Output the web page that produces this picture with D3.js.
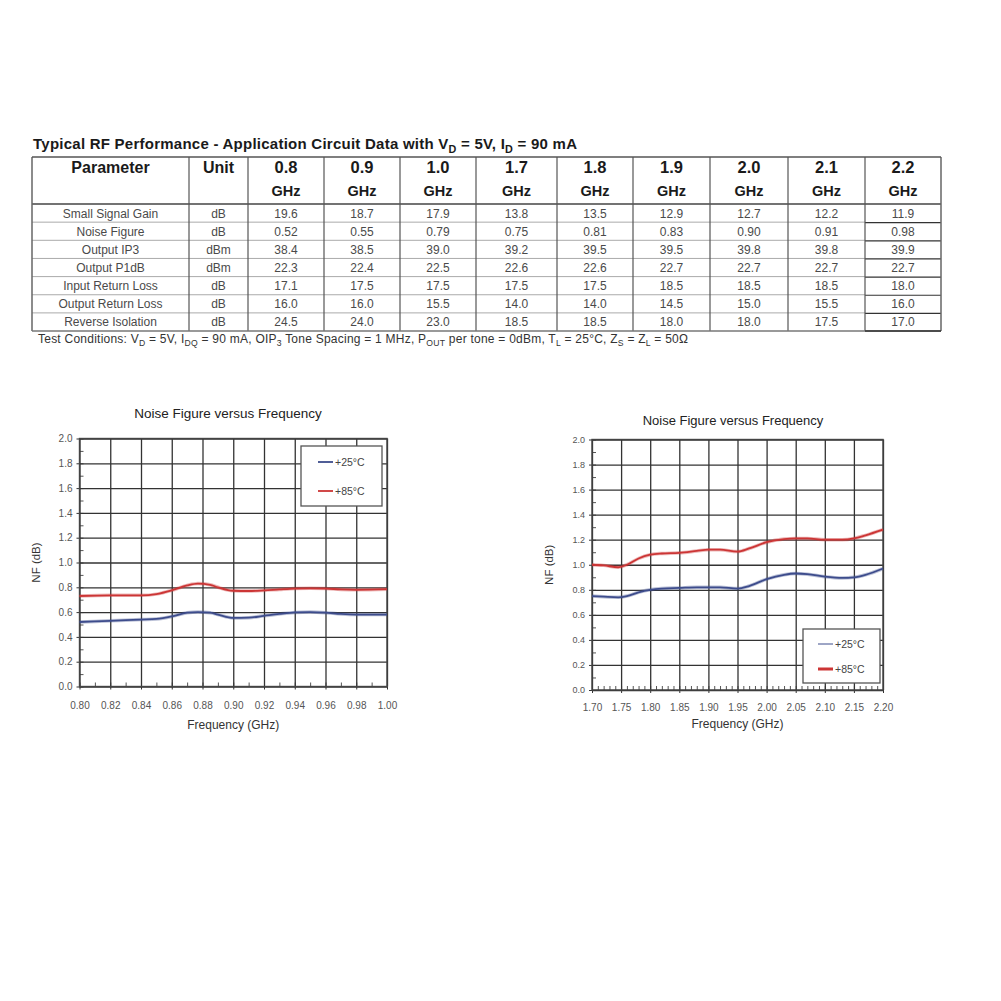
<!DOCTYPE html>
<html><head><meta charset="utf-8">
<script src="https://cdn.jsdelivr.net/npm/d3@7"></script>
<style>
html,body{margin:0;padding:0;background:#fff;}
svg{display:block;}
</style></head>
<body>
<svg id="c" width="1001" height="1001"></svg>
<script>
// ---------- Table data ----------
const freqCols = ["0.8","0.9","1.0","1.7","1.8","1.9","2.0","2.1","2.2"];
const params = ["Small Signal Gain","Noise Figure","Output IP3","Output P1dB","Input Return Loss","Output Return Loss","Reverse Isolation"];
const units = ["dB","dB","dBm","dBm","dB","dB","dB"];
const gainVals   = ["19.6","18.7","17.9","13.8","13.5","12.9","12.7","12.2","11.9"];
const nfVals     = ["0.52","0.55","0.79","0.75","0.81","0.83","0.90","0.91","0.98"];
const oip3Vals   = ["38.4","38.5","39.0","39.2","39.5","39.5","39.8","39.8","39.9"];
const p1dbVals   = ["22.3","22.4","22.5","22.6","22.6","22.7","22.7","22.7","22.7"];
const irlVals    = ["17.1","17.5","17.5","17.5","17.5","18.5","18.5","18.5","18.0"];
const orlVals    = ["16.0","16.0","15.5","14.0","14.0","14.5","15.0","15.5","16.0"];
const isoVals    = ["24.5","24.0","23.0","18.5","18.5","18.0","18.0","17.5","17.0"];
const tableRows = [gainVals,nfVals,oip3Vals,p1dbVals,irlVals,orlVals,isoVals];

// ---------- Chart 1 data (0.8 - 1.0 GHz) ----------
const c1Ticks = [0.80,0.82,0.84,0.86,0.88,0.90,0.92,0.94,0.96,0.98,1.00];
const c1Freq  = [0.80,0.82,0.84,0.85,0.86,0.87,0.877,0.885,0.89,0.90,0.91,0.92,0.93,0.94,0.95,0.96,0.97,0.98,1.00];
const c1NF25  = [0.52,0.53,0.54,0.545,0.565,0.595,0.60,0.595,0.58,0.553,0.555,0.57,0.585,0.597,0.60,0.595,0.585,0.58,0.58];
const c1NF85  = [0.73,0.735,0.735,0.745,0.775,0.815,0.83,0.82,0.80,0.772,0.77,0.775,0.783,0.79,0.792,0.79,0.783,0.78,0.785];

// ---------- Chart 2 data (1.7 - 2.2 GHz) ----------
const c2Ticks = [1.70,1.75,1.80,1.85,1.90,1.95,2.00,2.05,2.10,2.15,2.20];
const c2Freq  = [1.70,1.72,1.745,1.76,1.78,1.80,1.82,1.85,1.88,1.90,1.92,1.95,1.97,2.00,2.03,2.05,2.07,2.10,2.13,2.15,2.17,2.20];
const c2NF25  = [0.75,0.745,0.74,0.75,0.78,0.80,0.81,0.815,0.82,0.82,0.82,0.81,0.83,0.885,0.92,0.93,0.925,0.905,0.895,0.90,0.92,0.97];
const c2NF85  = [1.00,0.995,0.98,1.00,1.05,1.08,1.09,1.095,1.11,1.12,1.12,1.105,1.13,1.18,1.205,1.21,1.21,1.20,1.20,1.21,1.235,1.28];

const yTicks = [0.0,0.2,0.4,0.6,0.8,1.0,1.2,1.4,1.6,1.8,2.0];
const seriesNames = ["+25\u00B0C","+85\u00B0C"];
const seriesColors = ["#3d4c8c","#cc3535"];

const svg = d3.select("#c");
const FONT = "'Liberation Sans', Arial, sans-serif";

// rich text helper: parts = [[text, sub?],...]
function rich(g, x, y, parts, opts){
  const t = g.append("text").attr("x",x).attr("y",y)
    .attr("font-family",FONT).attr("font-size",opts.size).attr("fill",opts.fill)
    .attr("font-weight",opts.weight||"normal");
  parts.forEach((p,i)=>{
    const ts = t.append("tspan").text(p[0]);
    const prevSub = i>0 && parts[i-1][1];
    if(p[1]) ts.attr("font-size",opts.size*0.72).attr("dy",prevSub?0:opts.size*0.28);
    else ts.attr("dy",prevSub?-opts.size*0.28:0);
  });
  if(opts.len) t.attr("textLength",opts.len).attr("lengthAdjust","spacing");
  return t;
}

// ---------- Table ----------
(function(){
  const g = svg.append("g");
  rich(g, 33, 149, [["Typical RF Performance - Application Circuit Data with V"],["D",1],[" = 5V, I"],["D",1],[" = 90 mA"]],
    {size:15, fill:"#1a1a1a", weight:"bold", len:544});
  const colEdges = [32,189,248,324,400,476,557,633,710,788,865,941];
  const top = 157, headBottom = 204, rowH = 18.15;
  const bottom = headBottom + rowH*params.length;
  const hdr = (x,y,t,size,w)=>g.append("text").attr("x",x).attr("y",y).attr("text-anchor","middle")
      .attr("font-family",FONT).attr("font-size",size).attr("font-weight",w).attr("fill","#1a1a1a").text(t);
  hdr((colEdges[0]+colEdges[1])/2,173,"Parameter",16,"bold");
  hdr((colEdges[1]+colEdges[2])/2,173,"Unit",16,"bold");
  freqCols.forEach((f,i)=>{
    const cx=(colEdges[i+2]+colEdges[i+3])/2;
    hdr(cx,173,f,16.5,"bold");
    hdr(cx,196,"GHz",14.5,"bold");
  });
  params.forEach((p,r)=>{
    const y = headBottom + rowH*r + rowH/2 + 4.5;
    const cell=(x,t)=>g.append("text").attr("x",x).attr("y",y).attr("text-anchor","middle")
      .attr("font-family",FONT).attr("font-size",12).attr("fill","#4a4a4a").text(t);
    cell((colEdges[0]+colEdges[1])/2,p);
    cell((colEdges[1]+colEdges[2])/2,units[r]);
    tableRows[r].forEach((v,i)=>cell((colEdges[i+2]+colEdges[i+3])/2,v));
  });
  for(let r=1;r<params.length;r++){
    const y=headBottom+rowH*r;
    g.append("line").attr("x1",colEdges[0]).attr("x2",colEdges[10]).attr("y1",y).attr("y2",y)
      .attr("stroke","#aaa").attr("stroke-width",1);
    g.append("line").attr("x1",colEdges[10]).attr("x2",colEdges[11]).attr("y1",y+0.5).attr("y2",y+0.5)
      .attr("stroke","#333").attr("stroke-width",1.2);
  }
  g.append("line").attr("x1",colEdges[0]).attr("x2",colEdges[11]).attr("y1",headBottom).attr("y2",headBottom)
    .attr("stroke","#444").attr("stroke-width",1.5);
  colEdges.forEach((x,i)=>{
    const edge = (i===0||i===colEdges.length-1);
    g.append("line").attr("x1",x).attr("x2",x).attr("y1",top).attr("y2",bottom)
      .attr("stroke",edge?"#666":"#555").attr("stroke-width",edge?1.5:1.2);
  });
  g.append("line").attr("x1",colEdges[0]).attr("x2",colEdges[11]).attr("y1",top).attr("y2",top)
    .attr("stroke","#555").attr("stroke-width",1.5);
  g.append("line").attr("x1",colEdges[0]).attr("x2",colEdges[11]).attr("y1",bottom).attr("y2",bottom)
    .attr("stroke","#777").attr("stroke-width",1.5);
  g.append("line").attr("x1",colEdges[10]).attr("x2",colEdges[11]).attr("y1",bottom).attr("y2",bottom)
    .attr("stroke","#333").attr("stroke-width",1.5);
  rich(g, 38, 343, [["Test Conditions: V"],["D",1],[" = 5V, I"],["DQ",1],[" = 90 mA, OIP"],["3",1],[" Tone Spacing = 1 MHz, P"],["OUT",1],[" per tone = 0dBm, T"],["L",1],[" = 25\u00B0C, Z"],["S",1],[" = Z"],["L",1],[" = 50\u03A9"]],
    {size:12, fill:"#333", len:650});
})();

// ---------- Charts ----------
function drawChart(cfg){
  const g = svg.append("g");
  const x = d3.scaleLinear().domain(cfg.xDomain).range([cfg.x0,cfg.x1]);
  const y = d3.scaleLinear().domain([0,2]).range([cfg.y0,cfg.y1]);
  const W = cfg.x1-cfg.x0, H = cfg.y0-cfg.y1;
  const xMinor = d3.range(Math.round(cfg.xDomain[0]/cfg.xMinorStep), Math.round(cfg.xDomain[1]/cfg.xMinorStep)+1).map(v=>v*cfg.xMinorStep);
  const yMinor = d3.range(0,21).map(v=>v*0.1);
  g.append("g").attr("transform",`translate(0,${cfg.y0})`)
    .call(d3.axisBottom(x).tickValues(xMinor).tickSize(-4).tickFormat(""))
    .call(a=>{a.select(".domain").remove();a.selectAll("line").attr("stroke","#555");});
  g.append("g").attr("transform",`translate(${cfg.x0},0)`)
    .call(d3.axisLeft(y).tickValues(yMinor).tickSize(-4).tickFormat(""))
    .call(a=>{a.select(".domain").remove();a.selectAll("line").attr("stroke","#555");});
  g.append("g").attr("transform",`translate(0,${cfg.y0})`)
    .call(d3.axisBottom(x).tickValues(cfg.xTicks).tickSizeInner(-H).tickSizeOuter(0).tickPadding(cfg.xPad)
      .tickFormat(d3.format(".2f")))
    .call(a=>{a.select(".domain").remove();
      a.selectAll("line").attr("stroke","#333").attr("stroke-width",1.3);
      a.selectAll("text").attr("font-family",FONT).attr("font-size",cfg.xTickSize).attr("fill","#555");});
  g.append("g").attr("transform",`translate(${cfg.x0},0)`)
    .call(d3.axisLeft(y).tickValues(yTicks).tickSizeInner(-W).tickSizeOuter(0).tickPadding(7)
      .tickFormat(d3.format(".1f")))
    .call(a=>{a.select(".domain").remove();
      a.selectAll("line").attr("stroke","#333").attr("stroke-width",1.3);
      a.selectAll("text").attr("font-family",FONT).attr("font-size",cfg.yTickSize).attr("fill","#555");});
  g.append("g").attr("transform",`translate(0,${cfg.y0})`)
    .call(d3.axisBottom(x).tickValues(cfg.xTicks).tickSize(3).tickFormat(""))
    .call(a=>{a.select(".domain").remove();a.selectAll("line").attr("stroke","#333");});
  g.append("g").attr("transform",`translate(${cfg.x0},0)`)
    .call(d3.axisLeft(y).tickValues(yTicks).tickSize(3).tickFormat(""))
    .call(a=>{a.select(".domain").remove();a.selectAll("line").attr("stroke","#333");});
  g.append("rect").attr("x",cfg.x0).attr("y",cfg.y1).attr("width",W).attr("height",H)
    .attr("fill","none").attr("stroke","#444").attr("stroke-width",1.4);
  const line = d3.line().x((d,i)=>x(cfg.freq[i])).y(d=>y(d)).curve(d3.curveMonotoneX);
  cfg.series.forEach((s,i)=>{
    g.append("path").datum(s).attr("d",line).attr("fill","none")
      .attr("stroke",seriesColors[i]).attr("stroke-opacity",0.35).attr("stroke-width",3.5);
    g.append("path").datum(s).attr("d",line).attr("fill","none")
      .attr("stroke",seriesColors[i]).attr("stroke-width",1.8);
  });
  g.append("text").attr("x",cfg.titleX).attr("y",cfg.titleY).attr("text-anchor","middle")
    .attr("font-family",FONT).attr("font-size",cfg.titleSize).attr("fill","#222").text("Noise Figure versus Frequency");
  g.append("text").attr("x",(cfg.x0+cfg.x1)/2).attr("y",cfg.y0+cfg.xTitleDy).attr("text-anchor","middle")
    .attr("font-family",FONT).attr("font-size",12).attr("fill","#333").text("Frequency (GHz)");
  g.append("text").attr("transform",`translate(${cfg.yLabelX},${(cfg.y0+cfg.y1)/2}) rotate(-90)`)
    .attr("text-anchor","middle").attr("font-family",FONT).attr("font-size",11.5).attr("fill","#333").text("NF (dB)");
  const L = cfg.legend;
  g.append("rect").attr("x",L.x).attr("y",L.y).attr("width",L.w).attr("height",L.h)
    .attr("fill","#fff").attr("stroke","#555").attr("stroke-width",1.3);
  seriesNames.forEach((n,i)=>{
    const ly = L.y + L.first + i*L.gap;
    g.append("line").attr("x1",L.x+L.lx).attr("x2",L.x+L.lx+15).attr("y1",ly).attr("y2",ly)
      .attr("stroke",seriesColors[i]).attr("stroke-width",L.widths[i]);
    g.append("text").attr("x",L.x+L.lx+17).attr("y",ly+3.5)
      .attr("font-family",FONT).attr("font-size",10.5).attr("fill","#444").text(n);
  });
}

drawChart({
  xDomain:[0.80,1.00], xTicks:c1Ticks, xMinorStep:0.01,
  x0:79.5, x1:387, y0:686.5, y1:438.5,
  freq:c1Freq, series:[c1NF25,c1NF85],
  xTickSize:10, yTickSize:10, xPad:15, xTitleDy:42,
  titleX:228, titleY:418, titleSize:13.5, yLabelX:40,
  legend:{x:301,y:446,w:81,h:60,lx:17,first:16,gap:29,widths:[1.8,1.8]}
});
drawChart({
  xDomain:[1.70,2.20], xTicks:c2Ticks, xMinorStep:0.01,
  x0:592, x1:883, y0:690, y1:439.5,
  freq:c2Freq, series:[c2NF25,c2NF85],
  xTickSize:10, yTickSize:9, xPad:14, xTitleDy:38,
  titleX:733, titleY:425, titleSize:13, yLabelX:553,
  legend:{x:803,y:629,w:77,h:54,lx:15,first:15,gap:25,widths:[1,3]}
});
</script>
</body></html>
